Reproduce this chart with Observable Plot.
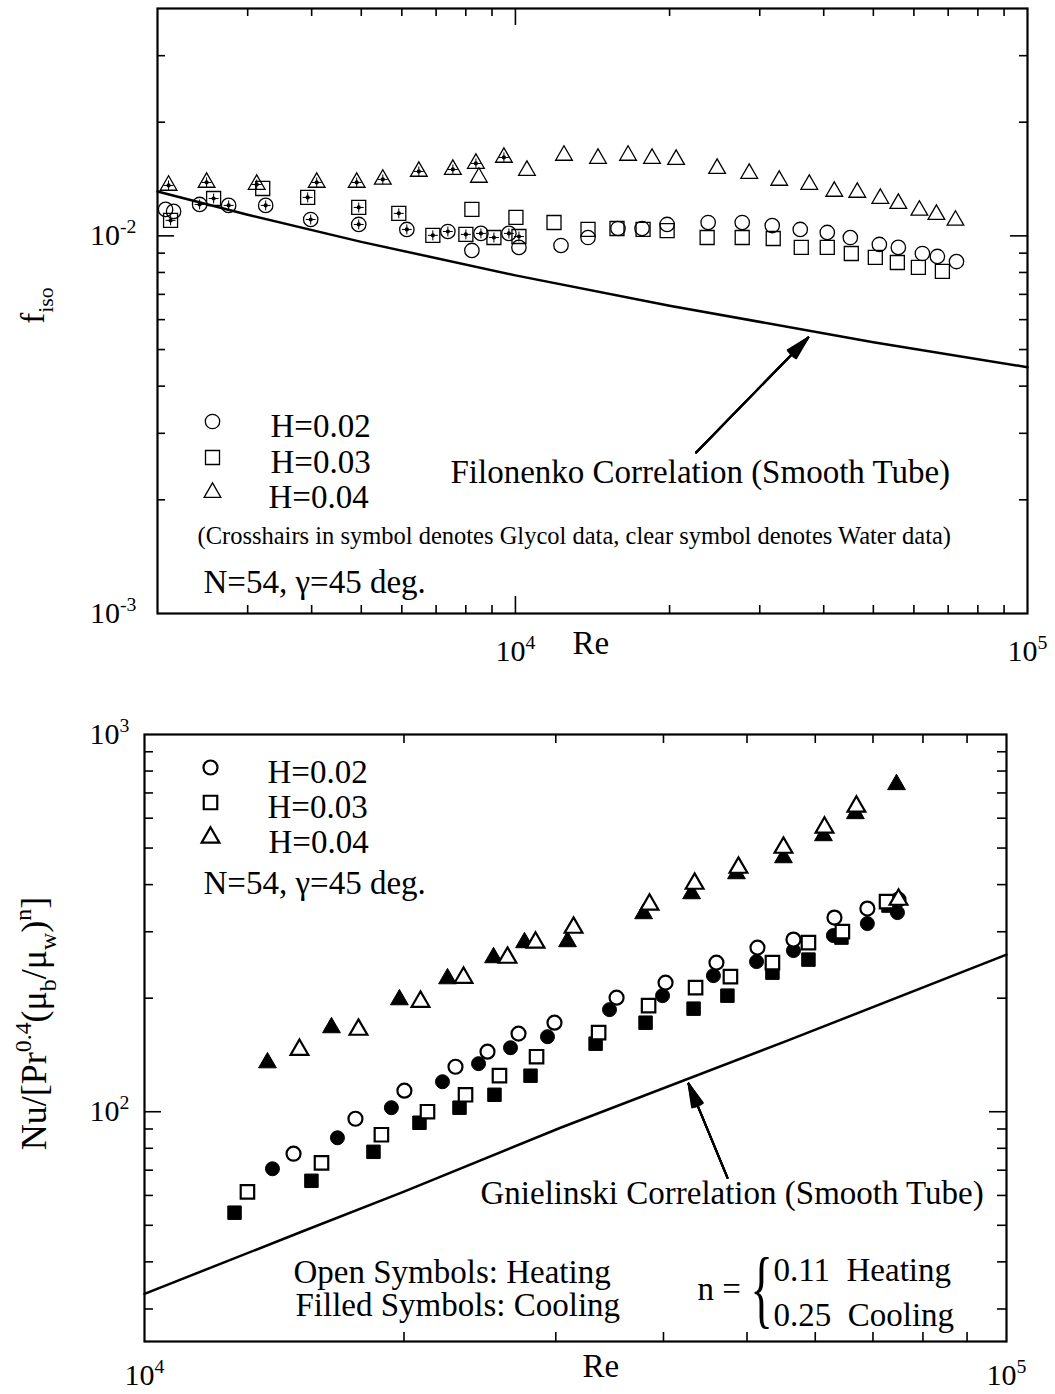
<!DOCTYPE html>
<html><head><meta charset="utf-8">
<script src="https://cdn.jsdelivr.net/npm/d3@7"></script>
<script src="https://cdn.jsdelivr.net/npm/@observablehq/plot@0.6"></script>
<style>
html,body{margin:0;padding:0;background:#fff;}
#wrap{position:relative;width:1055px;height:1394px;overflow:hidden;background:#fff;}
#wrap svg{position:absolute;left:0;}
</style></head><body><div id="wrap"></div>
<script>
// ---------------- DATA: top panel (isothermal friction factor) ----------------
const fH02Glycol = [[2417,0.01211],[2754,0.01204],[3253,0.01204],[3983,0.01105],[4943,0.01072],[6137,0.01040],[7380,0.01027],[8563,0.01015],[9712,0.01015]];
const fH02Water = [[2074,0.01175],[2150,0.01161],[8222,0.00915],[10159,0.00932],[12274,0.00943],[13860,0.00990],[15860,0.01046],[17672,0.01046],[19781,0.01072],[23787,0.01085],[27726,0.01085],[31731,0.01065],[35993,0.01040],[40644,0.01021],[45082,0.00990],[51366,0.00949],[55943,0.00932],[62337,0.00898],[66681,0.00882],[72660,0.00855]];
const fH03Glycol = [[2121,0.01099],[2574,0.01256],[3929,0.01264],[4943,0.01189],[5919,0.01147],[6898,0.01003],[8003,0.01009],[9078,0.00990],[10159,0.00996]];
const fH03Water = [[3210,0.01335],[8222,0.01175],[10023,0.01119],[11894,0.01085],[13860,0.01040],[15788,0.01046],[17752,0.01040],[19781,0.01033],[23680,0.00990],[27726,0.00990],[31874,0.00984],[36158,0.00932],[40644,0.00932],[45282,0.00898],[50442,0.00877],[55697,0.00850],[61221,0.00825],[68200,0.00805]];
const fH04Glycol = [[2102,0.01360],[2494,0.01385],[3124,0.01368],[4092,0.01385],[4898,0.01385],[5508,0.01411],[6477,0.01481],[7548,0.01499],[8372,0.01555],[9495,0.01613]];
const fH04Water = [[8485,0.01428],[10531,0.01490],[12440,0.01633],[14497,0.01603],[16594,0.01633],[18484,0.01603],[20598,0.01593],[24770,0.01508],[28615,0.01463],[32746,0.01402],[37485,0.01368],[41947,0.01311],[46514,0.01303],[51593,0.01256],[55943,0.01218],[61502,0.01168],[66390,0.01139],[72328,0.01099]];
const filonenko = [[2000,0.0131],[3000,0.01137],[5000,0.00964],[10000,0.00786],[20000,0.00653],[50000,0.00523],[100000,0.00449]];

const topXMinor = [3000,4000,5000,6000,7000,8000,9000,20000,30000,40000,50000,60000,70000,80000,90000];
const topXMajor = [10000];
const topYMinor = [0.002,0.003,0.004,0.005,0.006,0.007,0.008,0.009,0.02,0.03];
const topYMajor = [0.01];
const topXTickVals = [10000, 100000];
const topXTickLabels = ["10^{4}", "10^{5}"];
const topYTickVals = [0.001, 0.01];
const topYTickLabels = ["10^{-3}", "10^{-2}"];
const topLegend = ["H=0.02", "H=0.03", "H=0.04"];

// ---------------- DATA: bottom panel (Nusselt) ----------------
const nuH02Heat = [[14890,77.4],[17568,95.8],[20022,113.7],[22950,131.6],[24998,144.3],[27158,161.1],[29896,172.2],[35290,200.6],[40222,219.9],[46080,248.5],[51417,272.3],[56604,286.0],[63156,327.1],[68960,345.6],[74937,365.0]];
const nuH02Cool = [[14075,70.6],[16743,85.3],[19338,102.5],[22167,120.1],[24406,134.1],[26583,147.8],[29343,158.1],[34630,186.5],[39900,203.1],[45710,229.5],[51286,250.0],[56604,267.4],[62982,293.1],[68960,315.3],[74730,337.2]];
const nuH03Heat = [[13165,61.3],[16045,73.2],[18829,86.9],[21296,100],[23573,110.9],[25811,124.6],[28498,139.9],[33637,162.1],[38439,191.1],[43580,213.3],[47834,228.1],[53513,248.5],[58917,280.8],[64508,300.3],[72580,360.6]];
const nuH03Cool = [[12719,54.0],[15619,65.6],[18434,78.3],[20845,93.5],[23196,102.5],[25468,110.9],[28042,124.6],[33367,151.5],[38131,172.2],[43350,187.6],[47450,203.1],[53513,233.7],[58917,253.1],[64345,289.5],[72968,352.0]];
const nuH04Heat = [[15128,146.0],[17710,165.1],[20902,195.8],[23446,226.7],[26370,256.2],[28420,280.8],[31458,307.7],[38537,354.1],[43470,402.5],[48869,443.8],[55112,501.4],[61497,566.6],[66970,644.2],[74937,365.0]];
const nuH04Cool = [[13889,134.9],[16478,167.1],[19757,198.2],[22466,225.3],[25404,256.2],[27595,280.8],[30955,282.5],[37930,335.2],[43121,378.6],[48610,427.8],[55112,471.7],[61327,539.6],[66786,617.3],[74540,737]];
const gnielinski = [[10000,32.9],[15290,48.3],[20000,61.4],[30380,90.7],[55700,154.3],[100000,260.9]];

const botXMinor = [20000,30000,40000,50000,60000,70000,80000,90000];
const botYMinor = [30,40,50,60,70,80,90,200,300,400,500,600,700,800,900];
const botYMajor = [100];
const botXTickVals = [10000, 100000];
const botXTickLabels = ["10^{4}", "10^{5}"];
const botYTickVals = [100, 1000];
const botYTickLabels = ["10^{2}", "10^{3}"];
const botLegend = ["H=0.02", "H=0.03", "H=0.04"];

// ---------------- helpers ----------------
const W = 1055;
const serif = "'Liberation Serif', 'Times New Roman', Times, serif";
const xy = {x: d => d[0], y: d => d[1]};

function frameTicks(xMinor, xMajor, yMinor, yMajor, pw, ph, lmin, lmaj, sw) {
  const o = {stroke: "black", strokeWidth: sw};
  return [
    Plot.ruleX(xMinor, {...o, insetTop: ph - lmin}),
    Plot.ruleX(xMinor, {...o, insetBottom: ph - lmin}),
    Plot.ruleX(xMajor, {...o, insetTop: ph - lmaj}),
    Plot.ruleX(xMajor, {...o, insetBottom: ph - lmaj}),
    Plot.ruleY(yMinor, {...o, insetRight: pw - lmin}),
    Plot.ruleY(yMinor, {...o, insetLeft: pw - lmin}),
    Plot.ruleY(yMajor, {...o, insetRight: pw - lmaj}),
    Plot.ruleY(yMajor, {...o, insetLeft: pw - lmaj})
  ];
}
const label = (txt, dx, dy, opts = {}) =>
  Plot.text([txt], {frameAnchor: "top-left", lineAnchor: "middle", dx, dy, text: d => d, textAnchor: "start", fontSize: 33, ...opts});
const sym = (symbol, dx, dy, opts) => Plot.dot([0], {frameAnchor: "top-left", dx, dy, symbol, ...opts});
const filledArrow = (a, sw) => [6, 12, 18, 24, 28].map(ang =>
  Plot.arrow([a], {x1: "x1", y1: "y1", x2: "x2", y2: "y2", stroke: "black", strokeWidth: sw, headLength: 18, headAngle: ang}));

// ---------------- top plot ----------------
const T = {h: 690, mt: 8, mb: 77, ml: 157, mr: 28};
const tPW = W - T.ml - T.mr, tPH = T.h - T.mt - T.mb;
const thin = {stroke: "black", strokeWidth: 1.3, fill: "none"};
const rC = 7.2, rS = 7.9, rT = 6.2;
const glycolMarks = arr => [
  Plot.dot(arr, {...xy, r: 2.1, fill: "black"}),
  Plot.dot(arr, {...xy, symbol: "plus", r: 3.3, stroke: "black", strokeWidth: 1})
];

const topPlot = Plot.plot({
  width: W, height: T.h,
  marginTop: T.mt, marginBottom: T.mb, marginLeft: T.ml, marginRight: T.mr,
  x: {type: "log", domain: [2000, 100000], axis: null},
  y: {type: "log", domain: [0.001, 0.04], axis: null},
  style: {fontFamily: serif, background: "white", color: "black"},
  marks: [
    ...frameTicks(topXMinor, topXMajor, topYMinor, topYMajor, tPW, tPH, 8, 17, 1.6),
    Plot.line(filonenko, {...xy, stroke: "black", strokeWidth: 2.5}),
    Plot.dot(fH02Water, {...xy, symbol: "circle", r: rC, ...thin}),
    Plot.dot(fH02Glycol, {...xy, symbol: "circle", r: rC, ...thin}),
    Plot.dot(fH03Water, {...xy, symbol: "square", r: rS, ...thin}),
    Plot.dot(fH03Glycol, {...xy, symbol: "square", r: rS, ...thin}),
    Plot.dot(fH04Water, {...xy, symbol: "triangle", r: rT, ...thin}),
    Plot.dot(fH04Glycol, {...xy, symbol: "triangle", r: rT, ...thin}),
    ...glycolMarks(fH02Glycol), ...glycolMarks(fH03Glycol), ...glycolMarks(fH04Glycol),
    sym("circle", 55, 413, {r: rC, ...thin}),
    sym("square", 55, 449, {r: rS, ...thin}),
    sym("triangle", 55, 484, {r: rT, ...thin}),
    label(topLegend[0], 113, 418),
    label(topLegend[1], 113, 454),
    label(topLegend[2], 111, 489),
    label("(Crosshairs in symbol denotes Glycol data, clear symbol denotes Water data)", 40, 528, {fontSize: 24.5}),
    label("N=54, γ=45 deg.", 46, 574),
    label("Filonenko Correlation (Smooth Tube)", 293, 464),
    ...filledArrow({x1: 22540, y1: 0.002669, x2: 37310, y2: 0.005381}, 2),
    Plot.text(topYTickVals, {y: d => d, frameAnchor: "left", lineAnchor: "middle", text: (d, i) => topYTickLabels[i], textAnchor: "end", dx: -21, fontSize: 30}),
    Plot.text(topXTickVals, {x: d => d, frameAnchor: "bottom", lineAnchor: "middle", text: (d, i) => topXTickLabels[i], textAnchor: "middle", dy: 38, fontSize: 30}),
    label("Re", 415, 635, {fontSize: 33}),
    Plot.text(["f_{iso}"], {frameAnchor: "top-left", lineAnchor: "middle", dx: -124, dy: 297, rotate: -90, textAnchor: "middle", fontSize: 33}),
    Plot.frame({stroke: "black", strokeWidth: 2.2})
  ]
});

// ---------------- bottom plot ----------------
const B = {h: 704, mt: 44, mb: 53, ml: 144, mr: 49};
const bPW = W - B.ml - B.mr, bPH = B.h - B.mt - B.mb;
const openS = {stroke: "black", strokeWidth: 2.2, fill: "white"};
const fillS = {stroke: "black", strokeWidth: 1, fill: "black"};
const bC = 7, bS = 7.6, bT = 6.6;

const botPlot = Plot.plot({
  width: W, height: B.h,
  marginTop: B.mt, marginBottom: B.mb, marginLeft: B.ml, marginRight: B.mr,
  x: {type: "log", domain: [10000, 100000], axis: null},
  y: {type: "log", domain: [24.6, 1000], axis: null},
  style: {fontFamily: serif, background: "white", color: "black"},
  marks: [
    ...frameTicks(botXMinor, [], botYMinor, botYMajor, bPW, bPH, 9, 17, 1.6),
    Plot.line(gnielinski, {...xy, stroke: "black", strokeWidth: 2.5}),
    Plot.dot(nuH02Cool, {...xy, symbol: "circle", r: bC, ...fillS}),
    Plot.dot(nuH03Cool, {...xy, symbol: "square", r: bS, ...fillS}),
    Plot.dot(nuH04Cool, {...xy, symbol: "triangle", r: bT, ...fillS}),
    Plot.dot(nuH02Heat, {...xy, symbol: "circle", r: bC, ...openS}),
    Plot.dot(nuH03Heat, {...xy, symbol: "square", r: bS, ...openS}),
    Plot.dot(nuH04Heat, {...xy, symbol: "triangle", r: bT, ...openS}),
    sym("circle", 66, 33, {r: bC, ...openS}),
    sym("square", 66, 68, {r: bS, ...openS}),
    sym("triangle", 66, 103, {r: bT, ...openS}),
    label(botLegend[0], 123, 37.5),
    label(botLegend[1], 123, 72.5),
    label(botLegend[2], 124, 107.5),
    label("N=54, γ=45 deg.", 59, 148.5),
    label("Gnielinski Correlation (Smooth Tube)", 336, 458.5),
    label("Open Symbols: Heating", 149, 537.5),
    label("Filled Symbols: Cooling", 151, 570.5),
    label("n =", 553, 554.5),
    Plot.text(["{"], {frameAnchor: "top-left", lineAnchor: "middle", dx: 617, dy: 555, text: d => d, textAnchor: "middle", fontSize: 86}),
    label("0.11\u00a0\u00a0Heating", 629, 535.5),
    label("0.25\u00a0\u00a0Cooling", 629, 580.5),
    ...filledArrow({x1: 47460, y1: 66.8, x2: 42770, y2: 118.7}, 2),
    Plot.text(botYTickVals, {y: d => d, frameAnchor: "left", lineAnchor: "middle", text: (d, i) => botYTickLabels[i], textAnchor: "end", dx: -15, fontSize: 30}),
    Plot.text(botXTickVals, {x: d => d, frameAnchor: "bottom", lineAnchor: "middle", text: (d, i) => botXTickLabels[i], textAnchor: "middle", dy: 34, fontSize: 30}),
    label("Re", 438, 632, {fontSize: 33}),
    Plot.text(["Nu/[Pr^{0.4}(μ_{b}/μ_{w})^{n}]"], {frameAnchor: "top-left", lineAnchor: "middle", dx: -110, dy: 289, rotate: -90, textAnchor: "middle", fontSize: 36}),
    Plot.frame({stroke: "black", strokeWidth: 2.2})
  ]
});

const wrap = document.getElementById("wrap");
topPlot.style.top = "0px";
botPlot.style.top = "690px";
wrap.appendChild(topPlot);
wrap.appendChild(botPlot);

// ---------------- rich text (super/subscripts) ----------------
const NS = "http://www.w3.org/2000/svg";
function richify(svg) {
  svg.querySelectorAll("text").forEach(t => {
    const s = t.textContent;
    if (s === "{") {
      const tr = t.getAttribute("transform");
      if (tr) t.setAttribute("transform", tr + " scale(0.55,1)");
      else { const x = +t.getAttribute("x") || 0; t.setAttribute("transform", `translate(${x},0) scale(0.55,1) translate(${-x},0)`); }
      return;
    }
    if (!/[\^_]\{/.test(s)) return;
    const fs = parseFloat(getComputedStyle(t).fontSize) || 30;
    const parts = [];
    const re = /([\^_])\{([^}]*)\}/g;
    let last = 0, m;
    while ((m = re.exec(s))) {
      if (m.index > last) parts.push({text: s.slice(last, m.index), kind: "n"});
      parts.push({text: m[2], kind: m[1]});
      last = re.lastIndex;
    }
    if (last < s.length) parts.push({text: s.slice(last), kind: "n"});
    t.textContent = "";
    let cur = 0;
    for (const p of parts) {
      const ts = document.createElementNS(NS, "tspan");
      const target = p.kind === "^" ? -0.42 * fs : p.kind === "_" ? 0.28 * fs : 0;
      if (target - cur !== 0) ts.setAttribute("dy", (target - cur).toFixed(2));
      cur = target;
      if (p.kind !== "n") ts.setAttribute("font-size", (0.66 * fs).toFixed(1));
      ts.textContent = p.text;
      t.appendChild(ts);
    }
  });
}
richify(topPlot);
richify(botPlot);
</script></body></html>
